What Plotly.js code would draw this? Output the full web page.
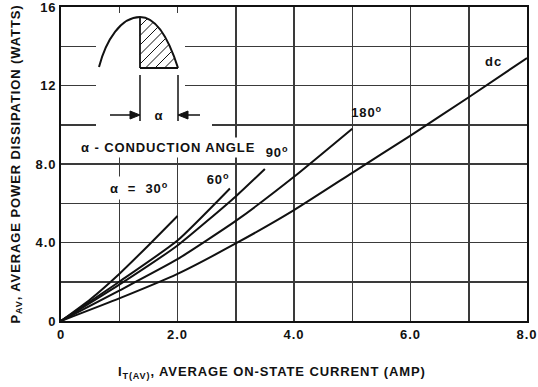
<!DOCTYPE html>
<html>
<head>
<meta charset="utf-8">
<script src="https://cdn.plot.ly/plotly-3.0.1.min.js"></script>
<style>
html,body{margin:0;padding:0;background:#fff;}
#chart{width:538px;height:387px;}
#chart svg text{letter-spacing:0.9px;}
</style>
</head>
<body>
<div id="chart"></div>
<script>
// ---- data ----
var x30 = [0, 0.5, 1, 1.5, 2];
var y30 = [0, 1.1, 2.4, 3.85, 5.35];
var x60 = [0, 1, 2, 2.9];
var y60 = [0, 2.0, 4.1, 6.75];
var x90 = [0, 1, 2, 3, 3.5];
var y90 = [0, 1.85, 3.85, 6.35, 7.75];
var x180 = [0, 1, 2, 3, 4, 5];
var y180 = [0, 1.55, 3.15, 5.1, 7.35, 9.8];
var xdc = [0, 1, 2, 3, 4, 5, 6, 7, 8];
var ydc = [0, 1.15, 2.4, 3.95, 5.65, 7.55, 9.45, 11.4, 13.4];
var seriesNames = ["α = 30°", "60°", "90°", "180°", "dc"];

var xTickVals = [0, 2, 4, 6, 8];
var xTickText = ["0", "2.0", "4.0", "6.0", "8.0"];
var yTickVals = [0, 4, 8, 12, 16];
var yTickText = ["0", "4.0", "8.0", "12", "16"];

var FONT = "Liberation Sans, Arial, sans-serif";
var INK = "#111";

// plot-area geometry (for placing the decorative inset drawing)
var L = 61, R = 11, T = 7, B = 66, W = 538, H = 387;
var XMAX = 8, YMAX = 16;
function px2x(px) { return (px - L) / ((W - L - R) / XMAX); }
function py2y(py) { return (H - B - py) / ((H - T - B) / YMAX); }
function P(px, py) { return px2x(px) + "," + py2y(py); }

function lineTrace(x, y, name) {
  return {x: x, y: y, name: name, type: "scatter", mode: "lines",
          line: {color: INK, width: 2, shape: "spline", smoothing: 0.5},
          hoverinfo: "x+y+name", showlegend: false};
}
var traces = [
  lineTrace(x30, y30, seriesNames[0]),
  lineTrace(x60, y60, seriesNames[1]),
  lineTrace(x90, y90, seriesNames[2]),
  lineTrace(x180, y180, seriesNames[3]),
  lineTrace(xdc, ydc, seriesNames[4])
];

// ---- decorative inset (waveform with hatched conduction angle) ----
var shapes = [];
function rectPx(x0, y0, x1, y1) {
  shapes.push({type: "rect", xref: "x", yref: "y", layer: "above",
    x0: px2x(x0), x1: px2x(x1), y0: py2y(y0), y1: py2y(y1),
    line: {width: 0}, fillcolor: "#fff"});
}
function segPx(x0, y0, x1, y1, w) {
  shapes.push({type: "line", xref: "x", yref: "y", layer: "above",
    x0: px2x(x0), x1: px2x(x1), y0: py2y(y0), y1: py2y(y1),
    line: {color: INK, width: w || 1.5}});
}
function triPx(ax, ay, bx, by, cx, cy) {
  shapes.push({type: "path", xref: "x", yref: "y", layer: "above",
    path: "M " + P(ax, ay) + " L " + P(bx, by) + " L " + P(cx, cy) + " Z",
    line: {color: INK, width: 1}, fillcolor: INK});
}
// blank areas behind the inset drawing
rectPx(96, 13, 185, 157);
rectPx(183, 118, 212, 130);

// waveform arc
var p0 = [99, 67], c1 = [106, 40], c2 = [121, 17], pk = [140, 17];
var c3 = [159, 17], c4 = [171, 46], p1 = [178, 68];
shapes.push({type: "path", xref: "x", yref: "y", layer: "above",
  path: "M " + P(p0[0], p0[1]) + " C " + P(c1[0], c1[1]) + " " + P(c2[0], c2[1]) + " " + P(pk[0], pk[1]) +
        " C " + P(c3[0], c3[1]) + " " + P(c4[0], c4[1]) + " " + P(p1[0], p1[1]),
  line: {color: INK, width: 2}});
segPx(140, 17, 140, 68, 1.8);
segPx(140, 68, 178, 68, 1.8);

// hatching inside the conduction region
var poly = [];
for (var i = 0; i <= 20; i++) {
  var t = i / 20, u = 1 - t;
  poly.push([u*u*u*pk[0] + 3*u*u*t*c3[0] + 3*u*t*t*c4[0] + t*t*t*p1[0],
             u*u*u*pk[1] + 3*u*u*t*c3[1] + 3*u*t*t*c4[1] + t*t*t*p1[1]]);
}
poly.push([140, 68]);
for (var c = 166; c <= 240; c += 9.5) {
  var pts = [];
  for (var k = 0; k < poly.length; k++) {
    var a = poly[k], b = poly[(k + 1) % poly.length];
    var fa = a[0] + a[1] - c, fb = b[0] + b[1] - c;
    if ((fa <= 0 && fb > 0) || (fa > 0 && fb <= 0)) {
      var s = fa / (fa - fb);
      pts.push([a[0] + s * (b[0] - a[0]), a[1] + s * (b[1] - a[1])]);
    }
  }
  if (pts.length >= 2) segPx(pts[0][0], pts[0][1], pts[1][0], pts[1][1], 1);
}
// dimension lines and arrows
segPx(140, 75, 140, 121, 1.5);
segPx(178, 75, 178, 121, 1.5);
segPx(110, 115, 132, 115, 1.5);
triPx(140, 115, 130, 111, 130, 119);
segPx(186, 115, 200, 115, 1.5);
triPx(178, 115, 188, 111, 188, 119);

var annoFont = {family: FONT, size: 13, color: INK, weight: "bold"};
var annotations = [
  {x: px2x(159), y: py2y(115), xref: "x", yref: "y", text: "α", showarrow: false, font: annoFont},
  {x: 1.85, y: 8.84, xref: "x", yref: "y", text: "α - CONDUCTION ANGLE", showarrow: false,
   font: annoFont, bgcolor: "#fff", borderpad: 2},
  {x: 1.34, y: 6.78, xref: "x", yref: "y", text: "α  =  30<sup>o</sup>", showarrow: false,
   font: annoFont, bgcolor: "#fff", borderpad: 3},
  {x: 2.70, y: 7.24, xref: "x", yref: "y", text: "60<sup>o</sup>", showarrow: false, font: annoFont},
  {x: 3.71, y: 8.61, xref: "x", yref: "y", text: "90<sup>o</sup>", showarrow: false, font: annoFont},
  {x: 5.25, y: 10.65, xref: "x", yref: "y", text: "180<sup>o</sup>", showarrow: false, font: annoFont},
  {x: 7.43, y: 13.2, xref: "x", yref: "y", text: "dc", showarrow: false, font: annoFont},
  {x: (272 - L) / (W - L - R), y: -(372 - (H - B)) / (H - T - B), xref: "paper", yref: "paper",
   xanchor: "center", yanchor: "middle",
   text: "I<sub>T(AV)</sub>, AVERAGE ON-STATE CURRENT (AMP)", showarrow: false,
   font: annoFont}
];

var gridStyle = {showgrid: true, gridcolor: "#3a3a3a", gridwidth: 1.5};
var axisCommon = Object.assign({}, gridStyle, {
  showline: true, linecolor: INK, linewidth: 2, mirror: true,
  zeroline: false, ticks: "", fixedrange: true, ticklabeloverflow: "allow",
  tickmode: "array",
  tickfont: {family: FONT, size: 13, color: INK, weight: "bold"}
});

var layout = {
  width: W, height: H,
  margin: {l: L, r: R, t: T, b: B},
  paper_bgcolor: "#fff", plot_bgcolor: "#fff",
  showlegend: false,
  xaxis: Object.assign({}, axisCommon, {range: [0, XMAX],
    tickvals: xTickVals, ticktext: xTickText,
    minor: Object.assign({tickmode: "linear", tick0: 0, dtick: 1, ticks: ""}, gridStyle)}),
  yaxis: Object.assign({}, axisCommon, {range: [0, YMAX],
    tickvals: yTickVals, ticktext: yTickText,
    minor: Object.assign({tickmode: "linear", tick0: 0, dtick: 2, ticks: ""}, gridStyle),
    title: {text: "P<sub>AV</sub>, AVERAGE POWER DISSIPATION (WATTS)",
            font: annoFont, standoff: 15}}),
  shapes: shapes,
  annotations: annotations
};

Plotly.newPlot("chart", traces, layout, {displayModeBar: false, staticPlot: true});
</script>
</body>
</html>
